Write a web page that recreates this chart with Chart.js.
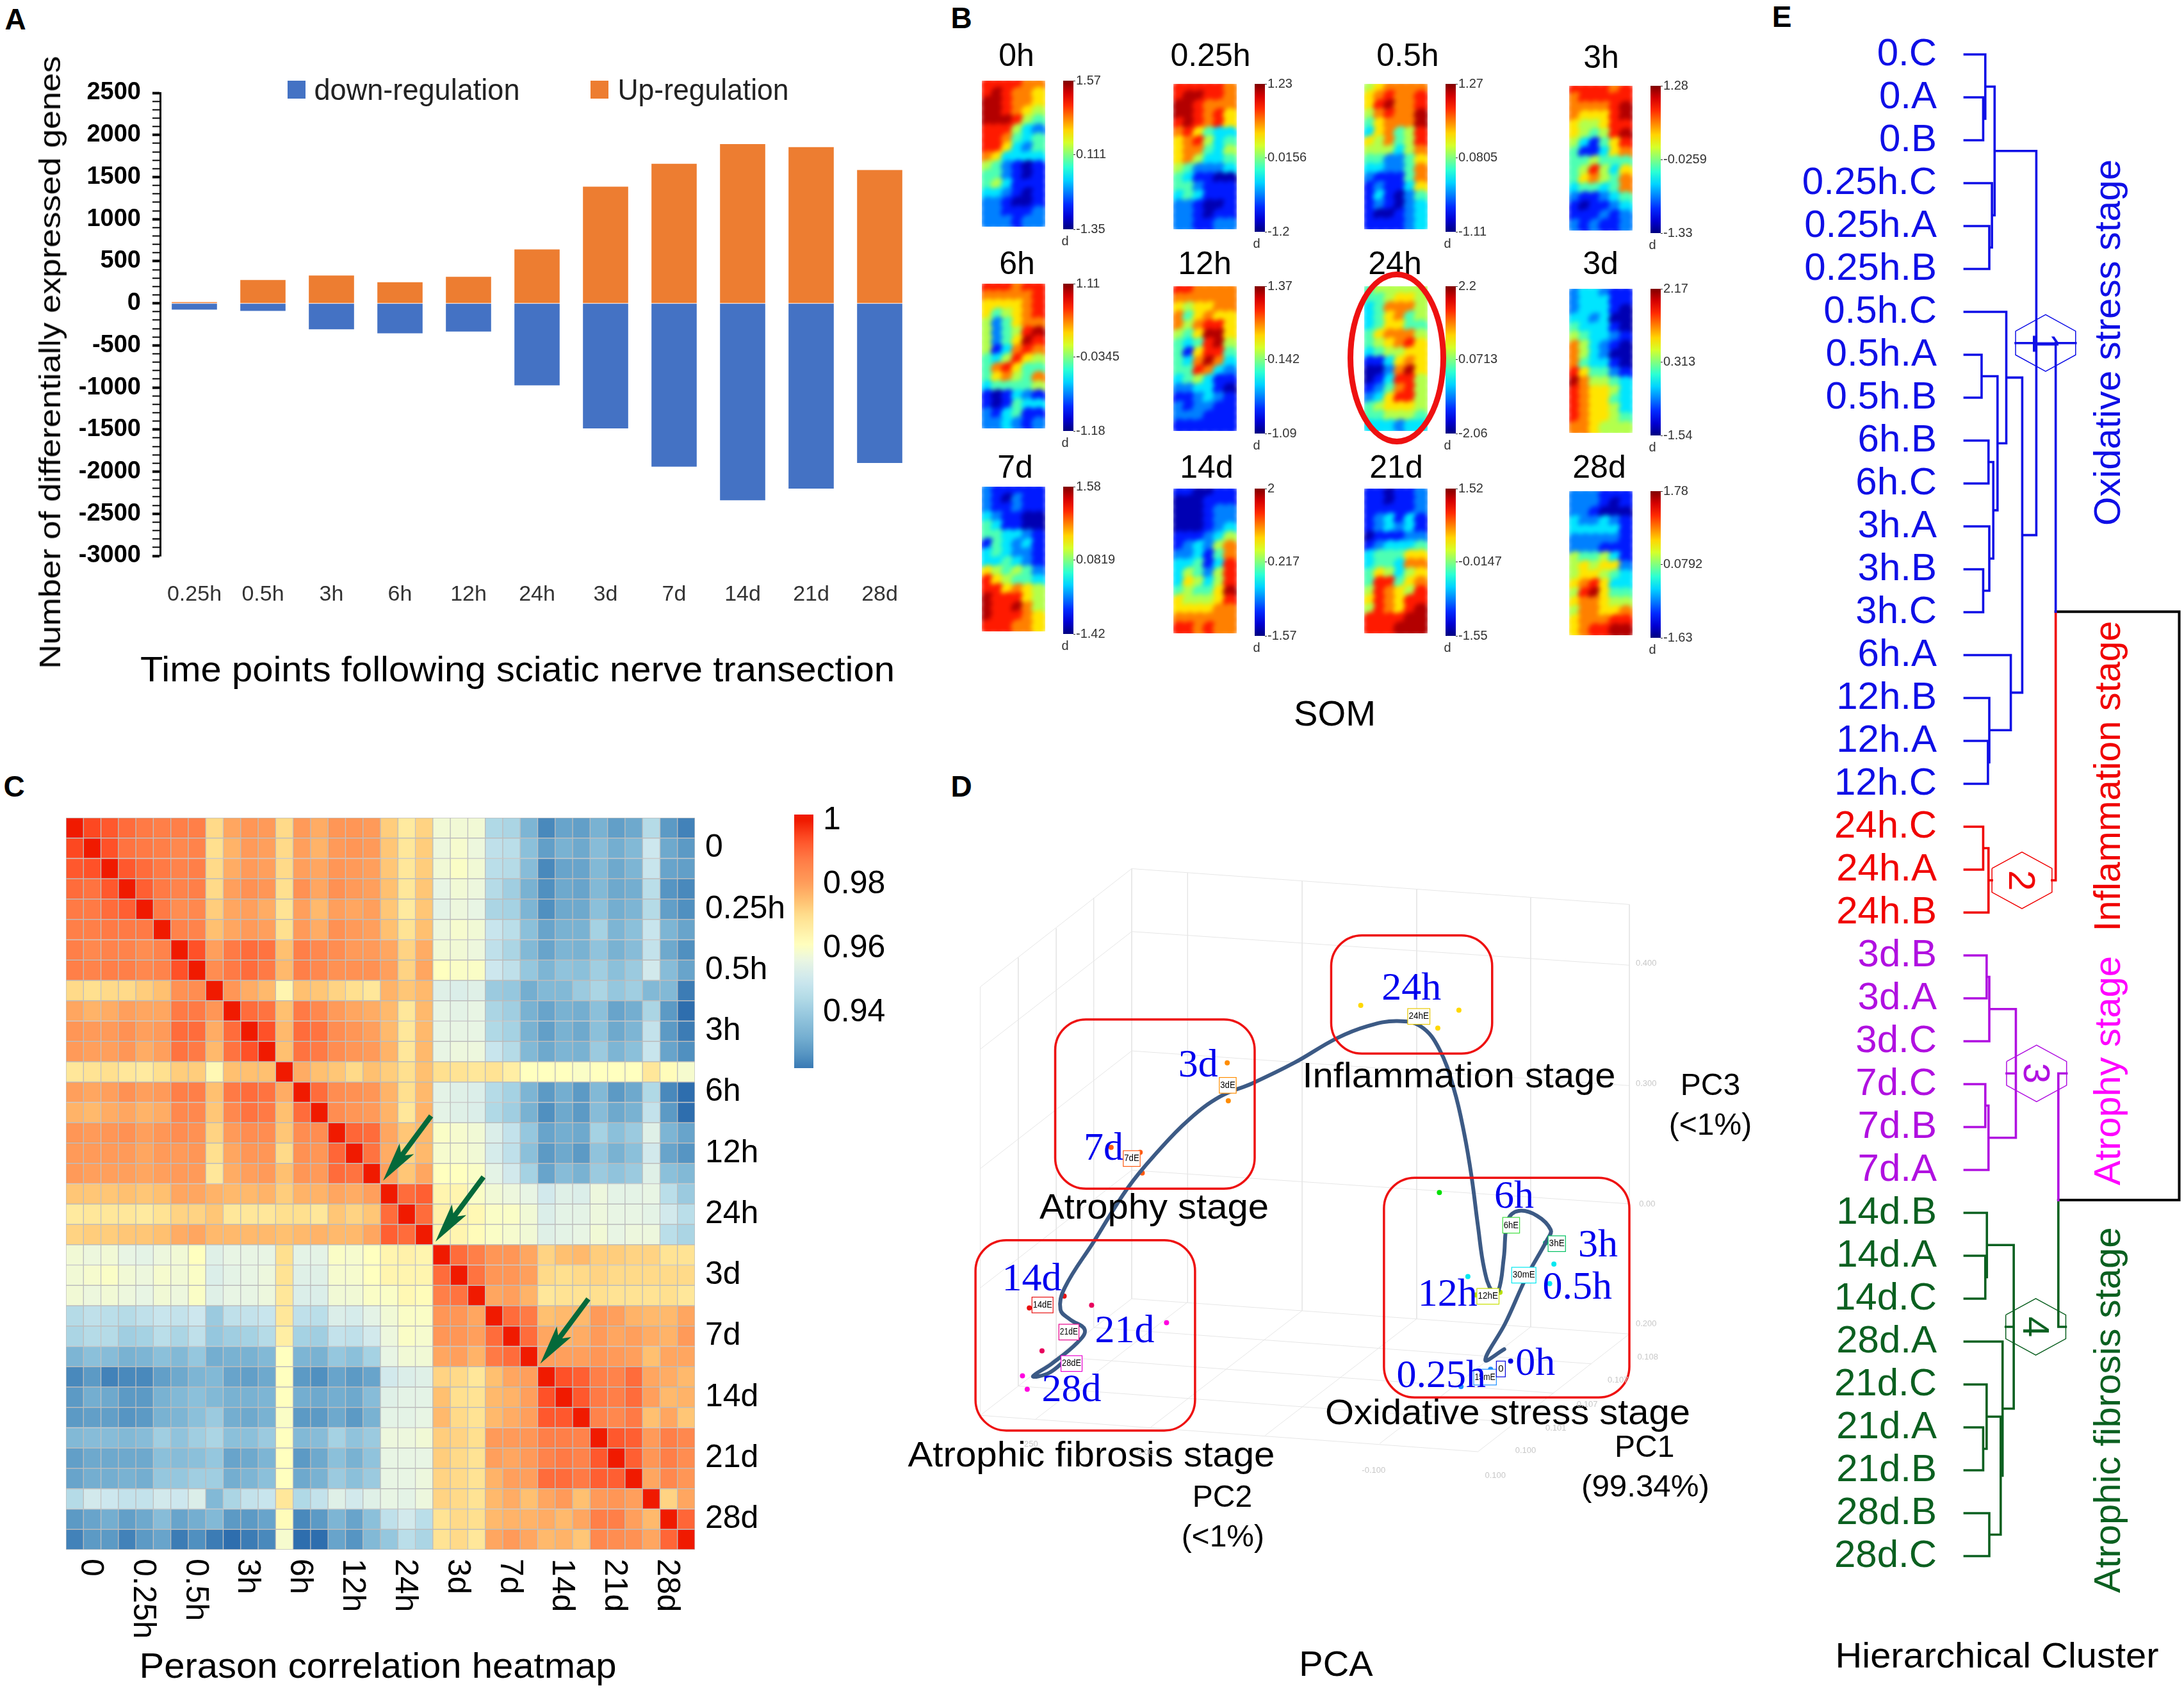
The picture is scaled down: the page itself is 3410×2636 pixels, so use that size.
<!DOCTYPE html>
<html>
<head>
<meta charset="utf-8">
<title>Sciatic nerve transection figure</title>
<script src="https://cdn.jsdelivr.net/npm/chart.js@4"></script>
<style>
  html, body { margin: 0; background: #fff; }
  #page { position: relative; width: 3410px; height: 2636px; overflow: hidden; background: #fff; }
  #page canvas { position: absolute; }
  .txt { position: absolute; white-space: nowrap; line-height: 1; }
</style>
</head>
<body>
<div id="page"></div>
<script>
// ============================================
// PANEL A DATA
// ============================================
const timeLabels = ['0.25h', '0.5h', '3h', '6h', '12h', '24h', '3d', '7d', '14d', '21d', '28d'];
const downRegulated = [-75, -90, -309, -357, -336, -975, -1487, -1940, -2340, -2201, -1897];
const upRegulated = [15, 277, 330, 250, 315, 640, 1386, 1658, 1892, 1855, 1583];

// ============================================
// PANEL B DATA (colour level 0-9 per map cell, 6 columns x 16 rows)
// ============================================
const somNames = ['0h', '0.25h', '0.5h', '3h', '6h', '12h', '24h', '3d', '7d', '14d', '21d', '28d'];
const somMax = [1.57, 1.23, 1.27, 1.28, 1.11, 1.37, 2.2, 2.17, 1.58, 2, 1.52, 1.78];
const somMid = [0.111, 0.0156, 0.0805, -0.0259, -0.0345, 0.142, 0.0713, 0.313, 0.0819, 0.217, -0.0147, 0.0792];
const somMin = [-1.35, -1.2, -1.11, -1.33, -1.18, -1.09, -2.06, -1.54, -1.42, -1.57, -1.55, -1.63];

const som0h = [[8,8,8,8,7,7],[8,9,8,7,7,6],[9,9,8,7,7,6],[9,9,8,7,6,5],[9,9,9,8,5,4],[8,8,8,5,3,2],[8,8,7,4,3,4],[8,8,6,3,2,4],
  [7,6,3,3,3,3],[5,4,2,1,0,1],[4,4,2,1,0,1],[4,5,3,1,1,1],[3,3,2,1,0,1],[2,2,1,0,0,1],[2,2,1,1,1,2],[2,2,2,1,2,2]];
const som025h = [[8,8,8,8,8,7],[8,9,9,8,8,7],[9,9,8,7,7,7],[9,9,8,7,8,6],[8,9,8,7,8,6],[7,8,6,4,3,3],[6,7,8,5,3,4],[6,7,7,4,3,5],
  [6,7,5,3,3,4],[5,4,2,2,2,3],[4,3,1,1,0,0],[4,4,2,1,1,1],[3,4,3,1,1,1],[2,2,1,0,0,1],[2,2,1,0,1,1],[2,2,1,1,2,2]];
const som05h = [[5,6,7,7,7,7],[6,7,8,7,7,8],[6,8,9,7,7,8],[5,7,8,7,7,9],[4,6,7,7,7,9],[3,6,7,4,5,8],[6,5,7,4,5,8],[5,5,5,3,5,7],
  [4,4,2,2,4,6],[3,3,2,2,4,7],[2,1,1,1,4,7],[1,2,1,1,3,6],[1,3,1,0,2,4],[1,2,1,0,2,3],[1,0,0,1,2,3],[1,1,1,1,2,3]];
const som3h = [[8,8,8,8,7,8],[7,8,8,8,8,8],[7,7,7,7,8,9],[7,6,6,6,8,9],[6,5,5,6,8,8],[6,5,4,5,8,9],[5,3,1,4,6,8],[4,1,1,3,6,7],
  [4,4,5,4,4,4],[4,5,8,5,3,6],[4,6,7,5,4,7],[3,4,4,3,4,7],[2,1,1,2,3,4],[1,0,1,1,2,3],[1,1,1,2,1,2],[2,1,2,1,1,2]];
const som6h = [[8,8,8,7,8,8],[7,7,7,7,7,8],[6,6,6,6,7,8],[6,4,5,6,7,8],[5,2,4,6,7,7],[5,2,4,5,8,9],[5,2,4,6,9,8],[5,1,3,7,8,7],
  [4,3,5,8,6,5],[4,7,8,6,4,4],[4,6,7,5,4,7],[3,4,4,4,4,5],[1,0,1,3,2,1],[1,0,1,4,3,3],[2,1,3,4,1,1],[2,2,3,2,1,2]];
const som12h = [[8,8,7,7,7,7],[7,7,7,7,7,7],[6,5,6,6,7,7],[7,4,6,7,6,6],[7,5,7,8,8,6],[5,4,6,9,9,6],[4,3,4,8,9,5],[4,1,6,8,8,4],
  [4,3,7,9,7,3],[4,4,8,7,3,2],[3,4,5,3,1,1],[2,2,3,3,1,0],[1,1,2,3,2,1],[2,1,2,2,1,1],[2,2,2,1,1,1],[1,1,1,1,1,1]];
const som24h = [[4,5,5,5,5,5],[4,4,5,6,6,5],[3,4,7,7,7,5],[3,4,6,7,4,5],[3,4,6,6,4,4],[4,6,7,7,7,5],[4,5,6,7,8,6],[3,4,5,5,6,6],
  [1,1,3,6,7,6],[0,0,2,7,9,6],[0,1,3,8,8,5],[1,2,4,7,8,5],[2,3,6,8,8,5],[4,5,6,6,6,5],[4,4,5,5,5,4],[3,3,3,2,3,3]];
const som3d = [[2,3,3,2,1,1],[2,3,3,3,1,1],[2,3,3,3,1,0],[3,3,2,3,0,0],[4,3,3,3,1,0],[5,4,3,3,2,1],[7,5,3,2,1,0],[7,5,3,2,0,0],
  [7,4,3,3,1,0],[8,6,4,4,2,1],[9,7,5,5,4,3],[8,7,6,6,5,3],[8,7,6,6,4,3],[8,7,6,6,5,3],[8,7,6,6,5,4],[7,7,6,5,5,5]];
const som7d = [[2,1,1,1,1,1],[2,1,0,2,1,1],[2,1,1,2,1,1],[3,2,1,1,0,0],[4,3,1,1,0,0],[4,4,3,3,2,1],[1,4,3,2,3,1],[3,4,3,2,2,1],
  [3,3,4,3,2,1],[6,5,4,5,4,2],[8,6,5,4,4,3],[8,8,6,7,6,5],[9,8,8,8,6,5],[9,8,8,9,7,5],[9,8,8,8,7,6],[8,8,8,7,7,6]];
const som14d = [[1,1,0,0,1,1],[0,0,0,1,1,1],[0,0,0,1,2,2],[0,0,0,1,2,2],[0,0,0,1,2,3],[1,1,1,2,3,5],[1,2,3,2,5,7],[2,2,3,1,4,7],
  [3,3,4,1,3,8],[3,5,4,2,5,8],[3,6,5,3,5,8],[4,5,4,4,6,9],[6,5,5,5,6,8],[6,6,6,6,7,7],[7,7,7,7,7,7],[8,8,7,8,7,7]];
const som21d = [[1,1,0,1,1,2],[1,1,0,1,1,2],[1,1,1,1,1,2],[1,2,3,1,3,1],[1,2,3,2,3,1],[0,1,1,1,2,2],[1,2,3,3,3,4],[3,4,4,4,6,6],
  [3,4,4,3,7,7],[4,6,5,3,5,6],[4,8,8,4,6,7],[5,8,7,6,5,8],[6,8,7,6,8,8],[5,8,7,6,8,9],[8,8,8,8,9,9],[8,8,8,9,9,9]];
const som28d = [[2,2,2,1,1,1],[2,2,2,1,0,1],[2,2,1,0,0,0],[3,2,2,3,2,1],[3,3,3,3,3,1],[2,2,2,2,2,1],[2,2,2,1,1,1],[5,4,4,5,3,1],
  [5,6,5,6,6,2],[5,6,6,5,4,3],[6,7,8,6,3,3],[5,8,9,6,4,4],[6,7,7,6,5,5],[5,7,7,6,6,7],[6,7,7,7,8,8],[6,7,8,8,9,9]];
const somGrids = [som0h, som025h, som05h, som3h, som6h, som12h, som24h, som3d, som7d, som14d, som21d, som28d];

// ============================================
// PANEL C DATA (correlation x 1000, 36 samples)
// ============================================
const corrTickLabels = ['0', '0.25h', '0.5h', '3h', '6h', '12h', '24h', '3d', '7d', '14d', '21d', '28d'];
const corrLegendTicks = [1, 0.98, 0.96, 0.94];
const corrMatrix = [
  [1000,995,993,990,988,987,987,987,971, 979,982,981,971,981,978,982,982,981,973,967,972, 958,958,958,944,943,934, 925,930,929,933,929,931,945,928,924],
  [995,1000,994,989,988,987,985,986,970, 977,981,980,971,980,977,981,982,981,974,968,973, 957,959,957,947,946,937, 929,933,931,936,932,935,950,931,928],
  [993,994,1000,993,990,988,986,987,971, 978,981,980,971,980,979,982,981,980,974,968,973, 958,960,958,946,945,936, 925,930,930,935,931,934,949,930,929],
  [990,989,993,1000,992,988,986,987,971, 980,983,982,970,983,979,983,981,980,975,968,974, 956,958,957,945,941,933, 926,931,930,935,931,932,946,927,925],
  [988,988,990,992,1000,988,984,985,973, 979,980,978,969,980,976,980,979,980,974,967,974, 955,957,956,943,942,934, 926,931,931,937,932,934,945,929,926],
  [987,987,988,988,988,1000,986,986,975, 979,981,980,970,981,978,983,981,980,975,969,975, 957,959,958,949,946,937, 930,933,933,942,934,937,949,934,930],
  [987,985,986,986,984,986,1000,994,980, 988,990,989,975,987,985,984,981,981,979,972,978, 958,958,957,947,943,935, 930,934,933,938,933,936,948,931,926],
  [987,986,987,987,985,986,994,1000,984, 988,990,988,976,987,985,983,983,983,980,972,979, 961,960,960,950,947,939, 934,938,937,941,937,940,951,936,930],
  [971,970,971,971,973,975,983,984,1000, 982,978,976,964,975,974,972,970,968,977,974,976, 954,953,954,940,939,932, 935,935,940,943,939,941,935,935,923],
  [979,977,978,980,979,979,988,988,982, 1000,990,989,975,988,985,981,979,978,976,968,976, 956,955,956,943,941,933, 930,933,932,937,930,932,943,928,921],
  [982,981,981,983,980,981,990,990,978, 990,1000,994,976,990,989,984,982,980,976,968,976, 956,956,956,944,942,933, 929,933,931,937,931,934,948,928,923],
  [981,980,980,982,978,980,989,988,976, 989,994,1000,975,989,988,984,982,981,977,968,976, 956,957,957,949,945,935, 931,934,933,940,934,937,949,930,926],
  [968,969,970,968,967,970,973,973,963, 975,975,975,1000,978,975,974,971,975,973,970,975, 970,969,968,969,966,961, 961,961,960,961,961,961,968,962,959],
  [980,979,980,983,980,981,987,987,975, 988,990,989,978,1000,990,984,983,982,977,970,976, 955,954,953,945,942,934, 928,932,928,935,928,931,944,925,921],
  [977,976,978,979,977,978,985,985,974, 985,989,988,975,990,1000,984,982,981,977,968,977, 955,954,953,944,941,933, 926,931,928,936,931,933,948,928,921],
  [982,981,982,983,980,982,984,983,972, 981,984,984,974,984,984,1000,991,990,979,974,976, 960,959,958,953,948,939, 930,932,931,942,937,940,954,934,930],
  [981,981,981,981,979,981,981,982,970, 979,982,982,971,983,982,991,1000,989,978,972,976, 959,959,958,952,947,937, 928,931,928,938,933,937,951,930,927],
  [981,980,980,980,979,980,981,981,968, 978,980,981,975,982,981,990,989,1000,980,974,979, 961,961,960,955,951,942, 930,936,933,940,938,940,954,937,935],
  [974,974,974,975,974,975,979,979,977, 976,976,977,973,977,977,979,978,980,1000,990,992, 964,964,960,958,957,956, 951,954,953,957,955,955,956,946,940],
  [967,968,968,968,967,969,972,972,974, 968,968,968,970,970,968,974,972,974,990,1000,990, 965,964,963,960,960,958, 953,955,955,957,956,956,955,951,946],
  [972,973,973,974,974,975,978,979,976, 976,976,976,975,976,977,976,976,979,992,990,1000, 964,964,962,960,959,958, 954,955,956,958,956,957,957,946,943],
  [958,957,958,956,955,957,958,961,954, 956,956,956,970,955,955,960,959,961,964,965,964, 1000,990,987,982,982,979, 972,975,976,973,973,972,972,969,969],
  [958,959,960,958,957,959,958,960,953, 955,956,957,969,954,954,959,959,961,964,964,964, 990,1000,989,982,982,980, 971,970,971,972,971,971,971,971,971],
  [958,957,958,957,956,958,957,960,954, 956,956,957,968,953,953,958,958,960,960,963,962, 987,989,1000,979,980,977, 968,969,969,970,969,969,969,970,968],
  [945,947,946,945,947,949,948,950,940, 947,948,949,968,947,946,953,952,955,958,960,960, 982,982,979,1000,990,988, 975,976,976,981,980,977,976,976,979],
  [943,945,945,941,942,946,943,947,939, 941,942,945,966,942,941,948,947,951,957,960,959, 982,982,980,990,1000,990, 979,977,978,981,979,980,978,977,981],
  [934,937,936,933,934,937,935,939,932, 933,933,935,961,934,933,939,937,942,956,958,958, 979,980,977,988,990,1000, 980,980,980,982,981,980,975,979,979],
  [925,928,924,925,925,929,931,934,935, 930,929,931,961,928,926,930,928,930,951,953,954, 972,971,968,975,979,980, 1000,994,992,987,986,990,979,978,976],
  [928,932,931,928,928,933,935,937,935, 933,933,934,961,932,931,932,931,936,954,955,955, 975,970,969,976,977,980, 994,1000,993,988,987,990,980,976,977],
  [928,929,929,927,928,933,934,937,940, 932,931,933,960,928,928,931,928,933,955,955,956, 976,971,969,976,978,980, 993,993,1000,986,985,988,975,979,974],
  [935,936,936,935,936,941,938,941,943, 937,937,940,961,935,936,942,938,940,957,957,958, 973,972,970,981,981,982, 987,987,986,1000,993,992,981,987,985],
  [929,931,931,931,931,937,936,937,939, 930,931,934,961,928,931,937,933,938,956,956,956, 973,971,969,980,979,981, 986,988,986,993,1000,992,982,987,984],
  [930,932,932,933,932,939,939,941,941, 932,934,937,961,931,933,940,937,940,956,956,957, 972,971,969,977,980,980, 990,990,988,992,992,1000,979,985,982],
  [945,951,950,948,948,951,950,953,935, 943,948,949,968,944,948,954,951,954,956,955,957, 972,971,969,976,978,975, 979,981,975,981,982,980,1000,972,979],
  [928,930,932,929,931,936,930,932,935, 928,928,930,962,925,928,934,930,937,947,951,946, 969,971,970,976,977,977, 978,976,979,987,987,980,976,1000,991],
  [924,928,928,924,928,930,923,926,923, 921,923,925,959,921,921,930,927,935,939,946,943, 969,971,968,979,981,979, 976,977,974,985,984,983,979,991,1000]
];

// ============================================
// PANEL D DATA (projected 3D positions)
// ============================================
const pcaGroups = ['0h', '0.25h', '0.5h', '3h', '6h', '12h', '24h', '3d', '7d', '14d', '21d', '28d'];
const pcaPointX = [[1110], [1016, 1072], [1029, 1192, 1184], [1176], [975], [1044, 1090], [826, 1012, 972], [573, 575], [353, 408, 412], [198, 264], [222, 316], [185, 194, 458]];
const pcaPointY = [[970], [1017, 985], [814, 791, 827], [752], [659], [848, 843], [314, 323, 356], [420, 490], [576, 585, 623], [872, 850], [951, 867], [997, 1022, 899]];
const pcaCurveX = [1098, 1062, 1100, 1140, 1180, 1186, 1160, 1125, 1105, 1097, 1087, 1075, 1060, 1048, 1036, 1022, 1003, 975, 940, 895, 840, 780, 700, 620, 560, 500, 440, 385, 320, 265, 257, 275, 303, 290, 240, 205, 235, 270];
const pcaCurveY = [948, 968, 900, 815, 745, 728, 702, 693, 710, 780, 840, 842, 800, 720, 630, 550, 470, 395, 353, 343, 352, 375, 420, 458, 482, 525, 585, 650, 750, 835, 875, 893, 912, 935, 975, 998, 992, 965];

// ============================================
// PANEL E DATA (leaves and merges of the dendrogram)
// ============================================
const leafLabels = ['0.C', '0.A', '0.B', '0.25h.C', '0.25h.A', '0.25h.B', '0.5h.C', '0.5h.A', '0.5h.B', '6h.B', '6h.C', '3h.A', '3h.B', '3h.C', '6h.A', '12h.B', '12h.A', '12h.C',
  '24h.C', '24h.A', '24h.B', '3d.B', '3d.A', '3d.C', '7d.C', '7d.B', '7d.A', '14d.B', '14d.A', '14d.C', '28d.A', '21d.C', '21d.A', '21d.B', '28d.B', '28d.C'];
const leafCluster = [0,0,0,0,0,0,0,0,0,0,0,0,0,0,0,0,0,0, 1,1,1, 2,2,2,2,2,2, 3,3,3,3,3,3,3,3,3];
// ids 0-35 are leaves, id 36 is the first merge, and so on
const mergeLeft =   [1, 0, 4, 3, 37, 7, 9, 12, 11, 42, 41, 6, 16, 15, 14, 47, 40, 18, 20, 52, 21, 23, 24, 26, 57, 28, 27, 32, 31, 34, 64, 30, 62, 60, 55];
const mergeRight =  [2, 36, 5, 38, 39, 8, 10, 13, 43, 44, 45, 46, 17, 48, 49, 50, 51, 19, 53, 54, 22, 56, 25, 58, 59, 29, 61, 33, 63, 35, 65, 66, 67, 68, 69];
const mergeHeight = [812, 820, 835, 845, 855, 806, 832, 812, 835, 850, 866, 899, 830, 835, 916, 959, 1012, 812, 832, 1085, 825, 835, 820, 832, 935, 820, 826, 812, 825, 835, 878, 885, 927, 1095, 1550];
const mergeCluster = [0,0,0,0,0,0,0,0,0,0,0,0,0,0,0,0,0, 1,1, -1, 2,2,2,2,2, 3,3,3,3,3,3,3,3, -1, 4];

// ============================================
// SHARED HELPERS
// ============================================
const page = document.getElementById('page');
const measure = document.createElement('canvas').getContext('2d');
const SANS = '"Liberation Sans", Arial, sans-serif';
const SERIF = '"Liberation Serif", "Times New Roman", serif';

Chart.defaults.animation = false;
Chart.defaults.responsive = false;
Chart.defaults.plugins.legend.display = false;
Chart.defaults.plugins.tooltip.enabled = false;

// Fix a y axis to one width, and stop its end labels pushing the plot area in
function fixAxis(width) {
  return s => {
    s.width = width;
    s.paddingTop = 0;
    s.paddingBottom = 0;
  };
}

// Put a canvas on the page at a full-size position
function addCanvas(left, top, width, height) {
  const c = document.createElement('canvas');
  c.width = width;
  c.height = height;
  c.style.left = left + 'px';
  c.style.top = top + 'px';
  c.style.width = width + 'px';
  c.style.height = height + 'px';
  page.appendChild(c);
  return c;
}

// Real text on the page. x,y is the centre unless align says 'left'
function addText(str, x, y, size, o = {}) {
  const el = document.createElement('div');
  const family = o.family || SANS;
  const weight = o.weight || 'normal';
  el.className = 'txt';
  el.textContent = str;
  el.style.left = x + 'px';
  el.style.top = y + 'px';
  el.style.fontFamily = family;
  el.style.fontSize = size + 'px';
  el.style.fontWeight = weight;
  el.style.color = o.color || '#000';
  let stretch = 1;
  if (o.w) {
    measure.font = weight + ' ' + size + 'px ' + family;
    stretch = o.w / measure.measureText(str).width;
  }
  const shift = o.align === 'left' ? 'translateY(-50%)' : 'translate(-50%,-50%)';
  el.style.transformOrigin = o.align === 'left' ? '0 50%' : '50% 50%';
  el.style.transform = shift + ' rotate(' + (o.rot || 0) + 'deg) scaleX(' + stretch + ')';
  page.appendChild(el);
}

function clamp01(v) { return Math.max(0, Math.min(1, v)); }

// Matlab style jet colours for the SOM maps
function jet(t) {
  const r = clamp01(1.5 - Math.abs(4 * t - 3));
  const g = clamp01(1.5 - Math.abs(4 * t - 2));
  const b = clamp01(1.5 - Math.abs(4 * t - 1));
  return 'rgb(' + Math.round(r * 255) + ',' + Math.round(g * 255) + ',' + Math.round(b * 255) + ')';
}

// Colour ramp of the correlation heatmap, keyed on correlation x 1000
const heatStops = [[921, '#2E6EAE'], [926, '#5090C0'], [932, '#74AED0'], [938, '#90C3DC'], [944, '#B0D9E6'], [950, '#CDE7EE'], [956, '#E8F5E4'],
  [961, '#FFFFBF'], [970, '#FFE08F'], [975, '#FFC070'], [980, '#FF9F5C'], [988, '#FF7A45'], [994, '#FF5128'], [1000, '#F01A00']];

function heatColor(v) {
  for (let i = 1; i < heatStops.length; i++) {
    if (v <= heatStops[i][0]) {
      const [a, ca] = heatStops[i - 1];
      const [b, cb] = heatStops[i];
      const t = clamp01((v - a) / (b - a));
      const mix = s => Math.round(parseInt(ca.substr(s, 2), 16) * (1 - t) + parseInt(cb.substr(s, 2), 16) * t);
      return 'rgb(' + mix(1) + ',' + mix(3) + ',' + mix(5) + ')';
    }
  }
  return heatStops[heatStops.length - 1][1];
}

// ============================================
// PANEL LETTERS
// ============================================
addText('A', 24, 30, 46, { weight: 'bold' });
addText('B', 1501, 28, 46, { weight: 'bold' });
addText('C', 22, 1228, 46, { weight: 'bold' });
addText('D', 1501, 1228, 46, { weight: 'bold' });
addText('E', 2782, 26, 46, { weight: 'bold' });

// ============================================
// PANEL A: STACKED BARS
// ============================================
new Chart(addCanvas(0, 0, 1440, 960), {
  type: 'bar',
  data: {
    labels: timeLabels,
    datasets: [
      { label: 'down-regulation', data: downRegulated, backgroundColor: '#4472C4', barPercentage: 0.66, categoryPercentage: 1 },
      { label: 'Up-regulation', data: upRegulated, backgroundColor: '#ED7D31', barPercentage: 0.66, categoryPercentage: 1 }
    ]
  },
  options: {
    layout: { padding: { top: 145, right: 13 } },
    scales: {
      x: {
        stacked: true,
        afterFit: s => { s.height = 92; },
        border: { display: false },
        grid: { display: false },
        ticks: { padding: 32, color: '#333', font: { family: SANS, size: 34 }, maxRotation: 0 }
      },
      y: {
        stacked: true,
        min: -3000,
        max: 2500,
        afterFit: fixAxis(250),
        border: { color: '#000', width: 3 },
        grid: {
          drawOnChartArea: false,
          tickLength: 12,
          tickColor: '#000',
          tickWidth: c => (c.tick && c.tick.value % 500 === 0 ? 4 : 2)
        },
        ticks: {
          stepSize: 100,
          autoSkip: false,
          padding: 18,
          color: '#000',
          font: { family: SANS, size: 38, weight: 'bold' },
          callback: v => (v % 500 === 0 ? v : '')
        }
      }
    }
  }
});

function addSwatch(left, top, size, color) {
  const d = document.createElement('div');
  d.style.cssText = 'position:absolute;left:' + left + 'px;top:' + top + 'px;width:' + size + 'px;height:' + size + 'px;background:' + color;
  page.appendChild(d);
}
addSwatch(449, 126, 28, '#4472C4');
addSwatch(922, 126, 28, '#ED7D31');
addText('down-regulation', 651, 140, 46, { w: 321, color: '#222' });
addText('Up-regulation', 1098, 140, 46, { w: 267, color: '#222' });
addText('Number of differentially expressed genes', 78, 566, 46, { w: 957, rot: -90 });
addText('Time points following sciatic nerve transection', 808, 1045, 56, { w: 1178 });

// ============================================
// PANEL B: SOM MAPS
// ============================================
const somLeft = [1535, 1834, 2132, 2452];
const somBarLeft = [1660, 1959, 2257, 2577];
const somTop = [[126, 131, 131, 134], [443, 447, 447, 451], [760, 763, 763, 767]];
const somBottom = [[354, 358, 358, 360], [669, 673, 673, 676], [986, 989, 989, 992]];
const somTitleX = [[1587, 1890, 2198, 2500], [1588, 1881, 2178, 2499], [1585, 1884, 2180, 2497]];
const somTitleY = [86, 411, 729];

function drawSomMap(index, left, top, bottom) {
  const pad = 12;
  const grid = somGrids[index];
  const cells = [];
  const colours = [];
  grid.forEach((row, r) => row.forEach((v, c) => {
    cells.push({ x: c + 0.5, y: r + 0.5 });
    colours.push(jet((v + 0.5) / 10));
  }));
  const canvas = addCanvas(left - pad, top - pad, 95 + 2 * pad, bottom - top + 2 * pad);
  // Soften the cells like the smoothed map, but keep the outer edge of the map crisp
  canvas.style.filter = 'blur(3.5px)';
  canvas.style.clipPath = 'inset(' + pad + 'px ' + (pad - 2) + 'px)';
  new Chart(canvas, {
    type: 'scatter',
    data: { datasets: [{ data: cells, pointBackgroundColor: colours, pointBorderWidth: 0, pointRadius: 12, clip: false }] },
    options: {
      layout: { padding: pad },
      scales: {
        x: { display: false, min: 0, max: 6 },
        y: { display: false, min: 0, max: 16, reverse: true }
      }
    }
  });
}

function drawSomColourBar(index, left, top, bottom) {
  const pad = 14;
  const ticks = [somMin[index], somMid[index], somMax[index]];
  new Chart(addCanvas(left, top - pad, 130, bottom - top + 2 * pad), {
    type: 'bar',
    data: {
      labels: [somNames[index]],
      datasets: [{
        data: [[somMin[index], somMax[index]]],
        barPercentage: 1,
        categoryPercentage: 1,
        borderSkipped: false,
        backgroundColor: c => {
          const area = c.chart.chartArea;
          if (!area) return '#000';
          const g = c.chart.ctx.createLinearGradient(0, area.bottom, 0, area.top);
          for (let i = 0; i <= 12; i++) g.addColorStop(i / 12, jet(i / 12));
          return g;
        }
      }]
    },
    options: {
      layout: { padding: { top: pad, bottom: pad } },
      scales: {
        x: { display: false },
        y: {
          position: 'right',
          min: somMin[index],
          max: somMax[index],
          afterFit: fixAxis(114),
          afterBuildTicks: s => { s.ticks = ticks.map(v => ({ value: v })); },
          border: { display: false },
          grid: { drawOnChartArea: false, tickLength: 3, tickColor: '#333' },
          ticks: { autoSkip: false, padding: 1, color: '#333', font: { family: SANS, size: 20 }, callback: v => String(v) }
        }
      }
    }
  });
}

somNames.forEach((name, i) => {
  const row = Math.floor(i / 4);
  const col = i % 4;
  const top = somTop[row][col];
  const bottom = somBottom[row][col];
  drawSomMap(i, somLeft[col], top, bottom);
  drawSomColourBar(i, somBarLeft[col], top, bottom + 4);
  addText(name, somTitleX[row][col], somTitleY[row] + (i === 3 ? 3 : 0), 50);
  addText('d', somBarLeft[col] + 3, bottom + 22, 20, { color: '#333' });
});
addText('SOM', 2084, 1114, 56, { w: 128 });

// Red ring round the 24h map
const ring = document.createElement('div');
ring.style.cssText = 'position:absolute;left:2104px;top:424px;width:136px;height:252px;border:9px solid #EE1111;border-radius:50%';
page.appendChild(ring);

// ============================================
// PANEL C: CORRELATION HEATMAP
// ============================================
const corrArrowCells = [18, 21, 27];

const corrArrows = {
  id: 'corrArrows',
  afterDatasetsDraw(chart) {
    const { ctx, scales } = chart;
    const cellW = scales.x.width / corrMatrix.length;
    corrArrowCells.forEach(cell => {
      const tipX = scales.x.left + (cell + 0.15) * cellW;
      const tipY = scales.y.getPixelForValue(cell - 0.15);
      const dx = 75, dy = -101;
      const len = Math.hypot(dx, dy);
      const ux = dx / len, uy = dy / len, nx = -uy, ny = ux;
      const at = (along, side) => [tipX + ux * along + nx * side, tipY + uy * along + ny * side];
      const pts = [at(0, 0), at(62, 14), at(52, 4), at(len, 4), at(len, -4), at(52, -4), at(62, -14)];
      ctx.save();
      ctx.fillStyle = '#04693A';
      ctx.beginPath();
      pts.forEach((p, i) => (i ? ctx.lineTo(p[0], p[1]) : ctx.moveTo(p[0], p[1])));
      ctx.closePath();
      ctx.fill();
      ctx.restore();
    });
  }
};

new Chart(addCanvas(93, 1267, 1145, 1163), {
  type: 'bar',
  plugins: [corrArrows],
  data: {
    labels: corrMatrix.map((_, i) => i),
    datasets: corrMatrix.map((row, r) => ({
      data: row.map(() => [r, r + 1]),
      backgroundColor: row.map(heatColor),
      borderColor: '#BDBDBD',
      borderWidth: 1,
      borderSkipped: false,
      grouped: false,
      barPercentage: 1,
      categoryPercentage: 1
    }))
  },
  options: {
    layout: { padding: { left: 10, top: 10, bottom: 10 } },
    scales: {
      x: { display: false },
      y: {
        position: 'right',
        min: 0,
        max: 36,
        reverse: true,
        afterFit: fixAxis(153),
        afterBuildTicks: s => { s.ticks = corrTickLabels.map((_, g) => ({ value: 3 * g + 1.5 })); },
        border: { display: false },
        grid: { display: false },
        ticks: { autoSkip: false, padding: 8, color: '#000', font: { family: SANS, size: 50 }, callback: v => corrTickLabels[Math.floor(v / 3)] }
      }
    }
  }
});

// Sample labels under the heatmap, reading downwards
corrTickLabels.forEach((name, g) => {
  addText(name, 103 + (3 * g + 1.5) * 27.28, 2434, 50, { rot: 90, align: 'left' });
});
addText('Perason correlation heatmap', 590, 2601, 56, { w: 745 });

// Colour key of the heatmap
new Chart(addCanvas(1240, 1252, 170, 436), {
  type: 'bar',
  data: {
    labels: ['r'],
    datasets: [{
      data: [[0.9226, 1.0018]],
      barPercentage: 1,
      categoryPercentage: 1,
      borderSkipped: false,
      backgroundColor: c => {
        const area = c.chart.chartArea;
        if (!area) return '#000';
        const y = c.chart.scales.y;
        const g = c.chart.ctx.createLinearGradient(0, y.getPixelForValue(1), 0, y.getPixelForValue(0.9226));
        for (let i = 0; i <= 32; i++) g.addColorStop(i / 32, heatColor(1000 - i * 77.4 / 32));
        return g;
      }
    }]
  },
  options: {
    layout: { padding: { top: 20, bottom: 20 } },
    scales: {
      x: { display: false },
      y: {
        position: 'right',
        min: 0.9226,
        max: 1.0018,
        afterFit: fixAxis(140),
        afterBuildTicks: s => { s.ticks = corrLegendTicks.map(v => ({ value: v })); },
        border: { display: false },
        grid: { display: false },
        ticks: { autoSkip: false, padding: 7, color: '#000', font: { family: SANS, size: 50 }, callback: v => String(v) }
      }
    }
  }
});

// ============================================
// PANEL D: PCA PROJECTION
// ============================================
const pcaColors = ['#0000E0', '#1E90FF', '#00E8F0', '#00D080', '#00E000', '#B8E000', '#FFD800', '#FF8C00', '#FF5A10', '#E81010', '#E8005C', '#FF00E0'];
// Faint wire box of the 3D view, as x1,y1,x2,y2
const pcaBoxLines = [
  [392,62,1335,128], [392,62,392,855], [105,280,105,1070], [105,280,392,62], [1335,128,1335,920], [392,855,1335,920],
  [105,1070,1048,1137], [1048,1137,1335,920], [105,1070,392,855], [392,178,1335,240], [392,398,1335,462], [392,618,1335,680],
  [105,395,392,178], [105,615,392,398], [105,835,392,618], [498,70,498,862], [715,85,715,877], [932,100,932,892], [1148,115,1148,907],
  [210,1077,497,862], [428,1092,715,877], [645,1107,932,892], [862,1122,1148,907], [177,1016,1120,1083], [249,962,1192,1029], [320,908,1263,975],
  [177,226,177,1016], [249,172,249,962], [320,116,320,908]
];
const pcaStageBoxes = [[770,185,1075,403], [247,340,625,652], [870,632,1335,1037], [96,747,512,1098]];
const pcaTags = ['24hE', '3dE', '7dE', '14dE', '21dE', '28dE', '12hE', '6hE', '3hE', '30mE', '15mE', '0'];
const pcaTagX = [915, 558, 376, 203, 254, 258, 1046, 1095, 1181, 1112, 1040, 1083];
const pcaTagY = [320, 447, 582, 852, 902, 960, 836, 705, 739, 797, 985, 970];
const pcaTagW = [42, 32, 32, 40, 38, 40, 42, 32, 33, 46, 43, 17];
const pcaTagColor = ['#E8C800', '#FF8C00', '#FF5A10', '#E81010', '#E8008C', '#E800D0', '#C8E000', '#40E040', '#00C060', '#00E8F0', '#1E90FF', '#0000E0'];

const pcaExtras = {
  id: 'pcaExtras',
  afterDatasetsDraw(chart) {
    const { ctx, scales: { x, y } } = chart;
    ctx.save();
    // Stage boxes
    ctx.strokeStyle = '#EE1111';
    ctx.lineWidth = 3.5;
    pcaStageBoxes.forEach(b => {
      const l = x.getPixelForValue(b[0]), t = y.getPixelForValue(b[1]);
      const r = x.getPixelForValue(b[2]), u = y.getPixelForValue(b[3]);
      ctx.beginPath();
      ctx.roundRect(l, t, r - l, u - t, 48);
      ctx.stroke();
    });
    // Small sample tags
    ctx.textAlign = 'center';
    ctx.textBaseline = 'middle';
    ctx.font = '15px ' + SANS;
    ctx.lineWidth = 1.2;
    pcaTags.forEach((tag, i) => {
      const l = x.getPixelForValue(pcaTagX[i]), t = y.getPixelForValue(pcaTagY[i]);
      const w = x.getPixelForValue(pcaTagX[i] + pcaTagW[i]) - l;
      const h = y.getPixelForValue(pcaTagY[i] + 29) - t;
      ctx.fillStyle = '#fff';
      ctx.fillRect(l, t, w, h);
      ctx.strokeStyle = pcaTagColor[i];
      ctx.strokeRect(l, t, w, h);
      ctx.fillStyle = '#000';
      ctx.fillText(tag, l + w / 2, t + h / 2, w - 3);
    });
    ctx.restore();
  }
};

const gridPath = [];
pcaBoxLines.forEach(l => {
  gridPath.push({ x: l[0], y: l[1] }, { x: l[2], y: l[3] }, { x: NaN, y: NaN });
});

new Chart(addCanvas(1440, 1300, 1300, 1336), {
  type: 'scatter',
  plugins: [pcaExtras],
  data: {
    datasets: [
      { data: gridPath, showLine: true, borderColor: '#E6E6E6', borderWidth: 1, pointRadius: 0, spanGaps: false, order: 3 },
      ...pcaGroups.map((name, g) => ({
        label: name,
        data: pcaPointX[g].map((v, i) => ({ x: v, y: pcaPointY[g][i] })),
        pointBackgroundColor: pcaColors[g],
        pointBorderWidth: 0,
        pointRadius: 4,
        order: 2
      })),
      {
        label: 'trajectory',
        data: pcaCurveX.map((v, i) => ({ x: v, y: pcaCurveY[i] })),
        showLine: true,
        tension: 0.4,
        borderColor: '#3C5A85',
        borderWidth: 6,
        borderCapStyle: 'round',
        pointRadius: 0,
        order: 1
      }
    ]
  },
  options: {
    scales: {
      x: { display: false, min: 0, max: 1568 },
      y: { display: false, min: 0, max: 1568, reverse: true }
    }
  }
});

// Zoomed picture units of this panel back to page pixels
const pcaPx = v => 1440 + v / 1.206;
const pcaPy = v => 1300 + v / 1.1737;
const pcaTimeText = [['24h', 865, 282], ['3d', 482, 422], ['7d', 304, 575], ['14d', 150, 815], ['21d', 325, 910], ['28d', 225, 1018],
  ['6h', 1077, 663], ['3h', 1235, 752], ['12h', 933, 843], ['0.5h', 1168, 830], ['0.25h', 893, 992], ['0h', 1117, 970]];
pcaTimeText.forEach(t => addText(t[0], pcaPx(t[1]), pcaPy(t[2]), 62, { family: SERIF, color: '#0000EE', align: 'left' }));

addText('Inflammation stage', pcaPx(1011), pcaPy(445), 55, { w: 489 });
addText('Atrophy stage', pcaPx(436), pcaPy(686), 55, { w: 358 });
addText('Oxidative stress stage', pcaPx(1102), pcaPy(1062), 55, { w: 570 });
addText('Atrophic fibrosis stage', pcaPx(318), pcaPy(1140), 55, { w: 573 });
addText('PC3', pcaPx(1484), pcaPy(463), 48);
addText('(<1%)', pcaPx(1484), pcaPy(535), 48);
addText('PC1', pcaPx(1360), pcaPy(1126), 48);
addText('(99.34%)', pcaPx(1362), pcaPy(1198), 48, { w: 200 });
addText('PC2', pcaPx(565), pcaPy(1217), 48);
addText('(<1%)', pcaPx(566), pcaPy(1290), 48);
addText('PCA', pcaPx(779), pcaPy(1523), 56);

const pcaAxisText = [['0.400', 1363, 238], ['0.300', 1363, 459], ['0.00', 1365, 679], ['0.200', 1363, 899], ['0.108', 1366, 960], ['0.107', 1310, 1002],
  ['0.107', 1252, 1047], ['0.101', 1193, 1090], ['0.100', 1136, 1132], ['0.100', 1079, 1177], ['-0.100', 850, 1168], ['0.00', 420, 1135], ['250', 205, 1120]];
pcaAxisText.forEach(t => addText(t[0], pcaPx(t[1]), pcaPy(t[2]), 13, { color: '#C8C8C8' }));

// ============================================
// PANEL E: DENDROGRAM
// ============================================
const clusterColors = ['#0F0FE6', '#F00000', '#B010E0', '#0B6020', '#000000'];
const clusterNodes = [52, 54, 60, 68];
const clusterHexX = [1047, 958, 1013, 1010];
const clusterNames = ['1', '2', '3', '4'];
const hexHalfW = 113;
const hexHalfH = 0.66;
const leafStart = 742;

// Work out node positions from the merge list
const nodes = leafLabels.map((_, i) => ({ x: leafStart, y: i, cluster: leafCluster[i] }));
mergeHeight.forEach((h, m) => {
  nodes.push({ x: h, y: (nodes[mergeLeft[m]].y + nodes[mergeRight[m]].y) / 2, cluster: mergeCluster[m] });
});

const segments = clusterColors.map(() => []);
function addSegment(cluster, x1, y1, x2, y2) {
  segments[cluster].push({ x: x1, y: y1 }, { x: x2, y: y2 }, { x: NaN, y: NaN });
}

function addStem(childId, parentX, cluster) {
  const child = nodes[childId];
  const hex = clusterNodes.indexOf(childId);
  if (hex >= 0) {
    addSegment(cluster, child.x, child.y, clusterHexX[hex] - hexHalfW, child.y);
    addSegment(cluster, clusterHexX[hex] + hexHalfW, child.y, parentX, child.y);
  } else {
    addSegment(cluster, child.x, child.y, parentX, child.y);
  }
}

mergeHeight.forEach((h, m) => {
  const a = nodes[mergeLeft[m]];
  const b = nodes[mergeRight[m]];
  const mid = nodes[36 + m].y;
  if (mergeCluster[m] === -1) {
    // Two clusters meet here, each half of the bracket keeps its own colour
    addStem(mergeLeft[m], h, a.cluster);
    addStem(mergeRight[m], h, b.cluster);
    addSegment(a.cluster, h, a.y, h, mid);
    addSegment(b.cluster, h, mid, h, b.y);
  } else {
    addStem(mergeLeft[m], h, mergeCluster[m]);
    addStem(mergeRight[m], h, mergeCluster[m]);
    addSegment(mergeCluster[m], h, a.y, h, b.y);
  }
});

const hexDatasets = clusterNodes.map((id, i) => {
  const cx = clusterHexX[i];
  const cy = nodes[id].y;
  return {
    data: [
      { x: cx - hexHalfW, y: cy - hexHalfH * 0.42 }, { x: cx, y: cy - hexHalfH }, { x: cx + hexHalfW, y: cy - hexHalfH * 0.42 },
      { x: cx + hexHalfW, y: cy + hexHalfH * 0.42 }, { x: cx, y: cy + hexHalfH }, { x: cx - hexHalfW, y: cy + hexHalfH * 0.42 },
      { x: cx - hexHalfW, y: cy - hexHalfH * 0.42 }
    ],
    showLine: true,
    borderColor: clusterColors[i],
    borderWidth: 1.5,
    pointRadius: 0
  };
});

new Chart(addCanvas(2770, 0, 640, 2636), {
  type: 'scatter',
  data: {
    datasets: [
      ...segments.map((pts, c) => ({
        data: pts,
        showLine: true,
        spanGaps: false,
        borderColor: clusterColors[c],
        borderWidth: c === 4 ? 4 : 3.6,
        borderCapStyle: 'square',
        pointRadius: 0
      })),
      ...hexDatasets
    ]
  },
  options: {
    scales: {
      x: { display: false, min: 700, max: 1568 },
      y: {
        min: -85 / 67,
        max: (2636 - 85) / 67,
        reverse: true,
        afterFit: fixAxis(280),
        afterBuildTicks: s => { s.ticks = leafLabels.map((_, i) => ({ value: i })); },
        border: { display: false },
        grid: { display: false },
        ticks: {
          autoSkip: false,
          padding: 18,
          font: { family: SANS, size: 60 },
          color: c => clusterColors[leafCluster[c.index]],
          callback: v => leafLabels[v]
        }
      }
    }
  }
});

clusterNodes.forEach((id, i) => {
  addText(clusterNames[i], 2760 + clusterHexX[i] / 2.412, 85 + 67 * nodes[id].y, 58, { rot: 90, color: clusterColors[i] });
});
addText('Oxidative stress stage', 3290, 535, 57, { w: 572, rot: -90, color: '#0F0FE6' });
addText('Inflammation stage', 3290, 1212, 57, { w: 485, rot: -90, color: '#F00000' });
addText('Atrophy stage', 3290, 1672, 57, { w: 358, rot: -90, color: '#FF00FF' });
addText('Atrophic fibrosis stage', 3290, 2202, 57, { w: 571, rot: -90, color: '#0B6020' });
addText('Hierarchical Cluster', 3118, 2585, 56, { w: 505 });
</script>
</body>
</html>
